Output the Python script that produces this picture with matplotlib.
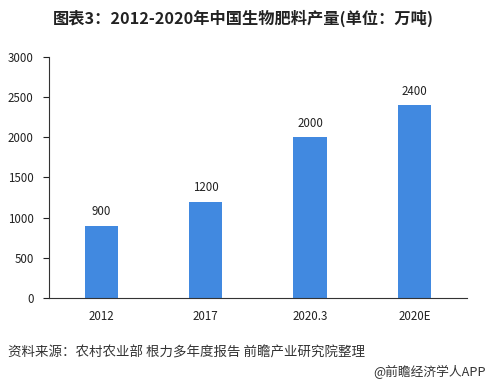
import matplotlib
matplotlib.use('Agg')
import matplotlib.pyplot as plt

plt.rcParams['font.family'] = ['Noto Sans CJK SC', 'DejaVu Sans']

categories = ['2012', '2017', '2020.3', '2020E']
values = [900, 1200, 2000, 2400]
yticks = [0, 500, 1000, 1500, 2000, 2500, 3000]


def main():
    fig = plt.figure(figsize=(4.87, 3.87), dpi=100)
    ax = fig.add_axes([0.1006, 0.23, 0.858, 0.623])

    x = range(len(categories))
    ax.bar(x, values, width=0.32, color='#4189E0')
    for i, v in zip(x, values):
        ax.text(i, v + 90, str(v), ha='center', va='bottom', fontsize=8.3, color='#222222')

    ax.set_xlim(-0.5, len(categories) - 0.5)
    ax.set_ylim(0, 3000)
    ax.set_yticks(yticks)
    ax.set_xticks(list(x))
    ax.set_xticklabels(categories)
    ax.tick_params(axis='y', length=4, width=0.8, labelsize=8.3, pad=7, colors='#222222')
    ax.tick_params(axis='x', length=0, labelsize=8.3, pad=9, colors='#222222')
    ax.spines['top'].set_visible(False)
    ax.spines['right'].set_visible(False)
    ax.spines['left'].set_color('#333333')
    ax.spines['bottom'].set_color('#333333')

    fig.text(0.5, 0.953, '图表3：2012-2020年中国生物肥料产量(单位：万吨)', ha='center', va='center',
             fontsize=11.7, fontweight='bold', color='#222222')
    fig.text(0.016, 0.088, '资料来源：农村农业部 根力多年度报告 前瞻产业研究院整理', ha='left', va='center',
             fontsize=9.7, color='#333333')
    fig.text(0.998, 0.038, '@前瞻经济学人APP', ha='right', va='center', fontsize=9.2, color='#333333')

    fig.savefig('out.png', dpi=100)


if __name__ == '__main__':
    main()
